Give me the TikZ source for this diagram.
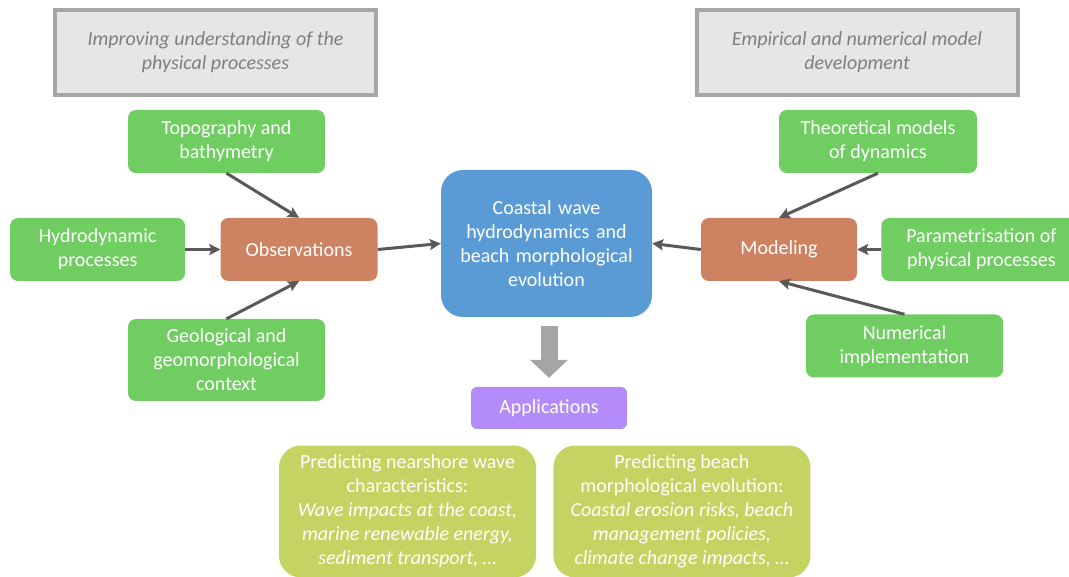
\documentclass[tikz,border=0pt]{standalone}
\usepackage{fontspec}
\setmainfont{Carlito}
\usepackage{xcolor}
\usetikzlibrary{positioning,arrows.meta}

\definecolor{boxgreen}{RGB}{112,205,98}
\definecolor{boxorange}{RGB}{205,131,98}
\definecolor{boxblue}{RGB}{91,155,213}
\definecolor{boxviolet}{RGB}{179,140,250}
\definecolor{boxolive}{RGB}{196,211,98}
\definecolor{headfill}{RGB}{231,230,230}
\definecolor{headline}{RGB}{166,166,166}
\definecolor{headtext}{RGB}{127,127,127}
\definecolor{arrowgray}{RGB}{89,89,89}
\definecolor{bigarrow}{RGB}{165,165,165}

\tikzset{
  box/.style={rectangle, inner sep=0pt, align=center, text=white,
    font=\fontsize{20}{24}\selectfont},
  input/.style={box, fill=boxgreen, rounded corners=8pt,
    minimum width=197pt, minimum height=63pt},
  method/.style={box, fill=boxorange, rounded corners=8pt,
    minimum width=157pt, minimum height=63pt},
  headbox/.style={box, fill=headfill, draw=headline, line width=4pt,
    text=headtext, minimum width=321pt, minimum height=85pt,
    font=\fontsize{20}{24}\selectfont\itshape},
  usebox/.style={box, fill=boxolive, rounded corners=22pt,
    minimum width=257pt, minimum height=132pt},
  link/.style={-{Stealth[length=11pt,width=11pt,inset=2pt]},
    draw=arrowgray, line width=3pt}
}

\begin{document}
\begin{tikzpicture}[x=1pt, y=-1pt]
  \useasboundingbox (0,0) rectangle (1069,577);

  % headers
  \node[headbox] (understand) at (215.5,52.5) {Improving understanding of the\\physical processes};
  \node[headbox] (develop) at (857,52.5) {Empirical and numerical model\\development};

  % observation side
  \node[method] (obs) at (299,249.5) {Observations};
  \node[input] (topo) at (226.5,141.5) {Topography and\\bathymetry};
  \node[input, minimum width=175pt, left=35pt of obs] (hydro) {Hydrodynamic\\processes};
  \node[input, minimum height=82pt] (geol) at (226.5,360) {Geological and\\geomorphological\\context};

  % centre
  \node[box, fill=boxblue, rounded corners=22pt, minimum width=211pt,
    minimum height=147pt, text width=200pt] (coast) at (546.5,243.5)
    {Coastal wave\\hydrodynamics and\\beach morphological\\evolution};

  % modelling side
  \node[method, minimum width=156pt] (model) at (779,249.5) {Modeling};
  \node[input, minimum width=198pt] (theo) at (878,141.5) {Theoretical models\\of dynamics};
  \node[input, minimum width=200pt, right=24pt of model] (param) {Parametrisation of\\physical processes};
  \node[input] (numer) at (904.5,346) {Numerical\\implementation};

  % applications
  \node[box, fill=boxviolet, rounded corners=6pt, minimum width=156pt,
    minimum height=42pt] (appl) at (549,408) {Applications};
  \node[usebox] (wave) at (407.5,511.5) {Predicting nearshore wave\\characteristics:\\
    \itshape Wave impacts at the coast,\\\itshape marine renewable energy,\\\itshape sediment transport, \dots};
  \node[usebox, right=17pt of wave] (beach) {Predicting beach\\morphological evolution:\\
    \itshape Coastal erosion risks, beach\\\itshape management policies,\\\itshape climate change impacts, \dots};

  % connectors
  \draw[link] (topo.south) -- (obs.north);
  \draw[link] (hydro.east) -- (obs.west);
  \draw[link] (geol.north) -- (obs.south);
  \draw[link] (obs.east) -- (coast.west);
  \draw[link] (model.west) -- (coast.east);
  \draw[link] (theo.south) -- (model.north);
  \draw[link] (param.west) -- (model.east);
  \draw[link] (numer.north) -- (model.south);

  \draw[draw=bigarrow, line width=17pt, shorten <=9pt, shorten >=9pt,
    -{Triangle[length=18pt,width=37pt]}]
    (coast.south -| appl.north) -- (appl.north);
\end{tikzpicture}
\end{document}
